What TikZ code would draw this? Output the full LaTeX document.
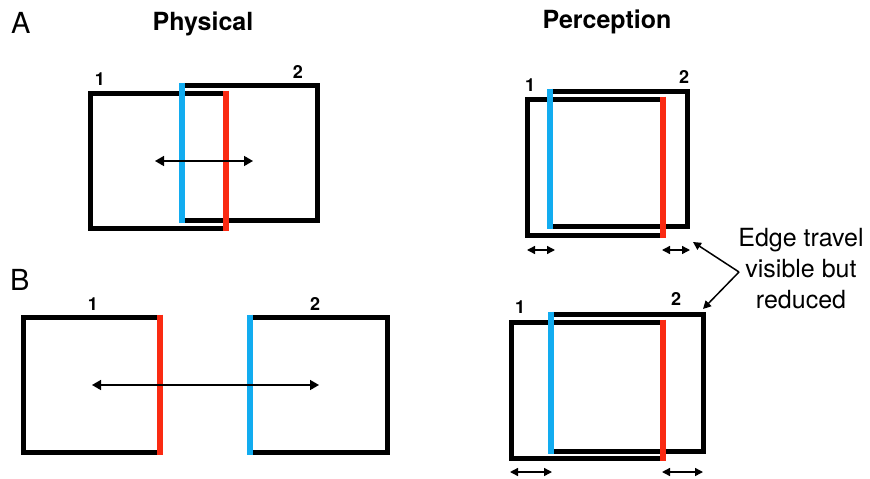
\documentclass[tikz,border=0pt]{standalone}
\usepackage{fontspec}
\setmainfont{TeX Gyre Heros}
\usepackage{tikz}
\usetikzlibrary{arrows.meta, positioning, calc}
\usepackage{xcolor}
\definecolor{edgeblue}{RGB}{18,172,240}
\definecolor{edgered}{RGB}{250,42,18}

\begin{document}
\begin{tikzpicture}[x=1pt, y=-1pt,
    frame/.style={line width=5pt, line join=miter},
    blueedge/.style={edgeblue, line width=6pt},
    rededge/.style={edgered, line width=6pt},
    travel/.style={{Triangle[length=9pt,width=10pt]}-{Triangle[length=9pt,width=10pt]}, line width=1.5pt},
    smalltravel/.style={{Triangle[length=8pt,width=8pt]}-{Triangle[length=8pt,width=8pt]}, line width=1.4pt},
    panel/.style={font=\fontsize{29}{29}\selectfont, anchor=base west, inner sep=0pt},
    heading/.style={font=\fontsize{25}{25}\selectfont\bfseries, anchor=base, inner sep=0pt},
    num/.style={font=\fontsize{18}{18}\selectfont\bfseries, anchor=base, inner sep=0pt}]
  \useasboundingbox (0,0) rectangle (870,479);
  \node[panel] (pa) at (11,33) {A};
  \node[panel] (pb) at (10,290) {B};
  \node[heading] (phys) at (203,30) {Physical};
  \node[heading] (perc) at (607,28) {Perception};
  % A, physical
  \draw[frame] (226,93) -- (90,93) -- (90,228) -- (226,228);
  \draw[frame] (182,85) -- (317,85) -- (317,220) -- (182,220);
  \draw[blueedge] (182,82.5) -- (182,222.5);
  \draw[rededge] (226,90.5) -- (226,230.5);
  \draw[travel] (155,161) -- (253,161);
  \node[num] (a1) at (100,85) {1};
  \node[num] (a2) at (298,78) {2};
  % A, perception
  \draw[frame] (663,99) -- (527,99) -- (527,235) -- (663,235);
  \draw[frame] (550,91) -- (687,91) -- (687,226) -- (550,226);
  \draw[blueedge] (550,88.5) -- (550,228.5);
  \draw[rededge] (663,96.5) -- (663,237.5);
  \draw[smalltravel] (527,250) -- (555,250);
  \draw[smalltravel] (662,250) -- (690,250);
  \node[num] (c1) at (530,91) {1};
  \node[num] (c2) at (684,83) {2};
  % B, physical
  \draw[frame] (160,317) -- (23,317) -- (23,452) -- (160,452);
  \draw[frame] (250,317) -- (387,317) -- (387,452) -- (250,452);
  \draw[rededge] (160,314.5) -- (160,454.5);
  \draw[blueedge] (250,314.5) -- (250,454.5);
  \draw[travel] (92,385) -- (319,385);
  \node[num] (b1) at (93,310) {1};
  \node[num] (b2) at (315,310) {2};
  % B, perception
  \draw[frame] (663,322) -- (511,322) -- (511,458) -- (663,458);
  \draw[frame] (551,314) -- (703,314) -- (703,451) -- (551,451);
  \draw[blueedge] (551,311.5) -- (551,453.5);
  \draw[rededge] (663,319.5) -- (663,460.5);
  \draw[smalltravel] (510,472) -- (552,472);
  \draw[smalltravel] (662,472) -- (703,472);
  \node[num] (d1) at (520,313) {1};
  \node[num] (d2) at (676,305) {2};
  % note
  \node[align=center, font=\fontsize{25}{31}\selectfont, inner sep=0pt] (note) at (801,269) {Edge travel\\visible but\\reduced};
  \coordinate (fork) at (739,272);
  \coordinate (tipa) at (693,242);
  \coordinate (tipb) at (703,309);
  \draw[-{Triangle[length=8pt,width=8pt]}, line width=1.5pt] (fork) -- (tipa);
  \draw[-{Triangle[length=8pt,width=8pt]}, line width=1.5pt] (fork) -- (tipb);
\end{tikzpicture}
\end{document}
